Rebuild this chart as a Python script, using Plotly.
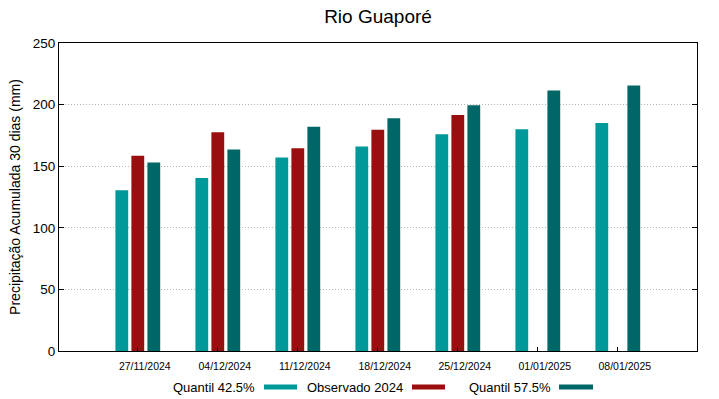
import plotly.graph_objects as go

dates = ["27/11/2024", "04/12/2024", "11/12/2024", "18/12/2024",
         "25/12/2024", "01/01/2025", "08/01/2025"]
q425 = [130.5, 140.5, 157.0, 166.0, 176.0, 180.0, 185.0]
obs2024 = [158.5, 177.5, 164.5, 179.5, 191.5, None, None]
q575 = [153.0, 163.5, 182.0, 189.0, 199.5, 211.5, 215.5]

names = ["Quantil 42.5%", "Observado 2024", "Quantil 57.5%"]
colors = ["#009999", "#990e0e", "#006666"]
series = [q425, obs2024, q575]

idx = list(range(len(dates)))

fig = go.Figure()
for nm, col, vals in zip(names, colors, series):
    fig.add_trace(go.Bar(x=idx, y=vals, name=nm, marker_color=col,
                         marker_line_width=0, showlegend=False))

W, H = 719, 399
ml, mr, mt, mb = 59, 22, 43, 48
pw, ph = W - ml - mr, H - mt - mb

def px_x(p):
    return (p - ml) / pw

def px_y(p):
    return (H - mb - p) / ph

# custom gnuplot-like legend: text then sample line
leg_y = 387
items = [(257, 264, 297), (405, 412, 445), (553, 559, 593)]
annotations = []
shapes = []
for (tr, l0, l1), nm, col in zip(items, names, colors):
    annotations.append(dict(x=px_x(tr), y=px_y(leg_y), xref="paper", yref="paper",
                            text=nm, showarrow=False, xanchor="right", yanchor="middle",
                            font=dict(family="Liberation Sans", size=13, color="#000")))
    shapes.append(dict(type="line", xref="paper", yref="paper",
                       x0=px_x(l0), x1=px_x(l1), y0=px_y(leg_y), y1=px_y(leg_y),
                       line=dict(color=col, width=5)))

fig.update_layout(
    width=W, height=H,
    margin=dict(l=ml, r=mr, t=mt, b=mb),
    paper_bgcolor="white", plot_bgcolor="white",
    barmode="group", bargap=0.4, bargroupgap=0.2,
    font=dict(family="Liberation Sans", color="#000"),
    title=dict(text="Rio Guaporé", x=0.5, xref="paper", xanchor="center",
               y=1 - 16 / H, yanchor="middle",
               font=dict(family="Liberation Sans", size=19, color="#000")),
    annotations=annotations,
    shapes=shapes,
    showlegend=False,
)

fig.update_xaxes(
    range=[-0.985, 6.99], tickmode="array", tickvals=idx, ticktext=dates,
    ticks="inside", ticklen=4, tickcolor="#000", tickwidth=1,
    showline=True, linecolor="#000", linewidth=1, mirror=True,
    showgrid=False, zeroline=False, automargin=False,
    tickfont=dict(family="Liberation Sans", size=10.5, color="#000"),
    ticklabelshift=7, ticklabelstandoff=5,
)
fig.update_yaxes(
    range=[0, 250], tickvals=[0, 50, 100, 150, 200, 250],
    ticks="inside", ticklen=5, tickcolor="#000", tickwidth=1,
    showline=True, linecolor="#000", linewidth=1, mirror="ticks",
    showgrid=True, gridcolor="#b4b4b4", griddash="1px,2px", gridwidth=1,
    zeroline=False, automargin=False,
    tickfont=dict(family="Liberation Sans", size=13.5, color="#000"),
    title=dict(text="Precipitação Acumulada 30 dias (mm)", standoff=8,
               font=dict(family="Liberation Sans", size=14, color="#000")),
)

fig.write_html("out.html", config={"displayModeBar": False},
               post_script="document.body.style.margin='0';document.body.style.padding='0';"
                           "window.dispatchEvent(new Event('resize'));")
